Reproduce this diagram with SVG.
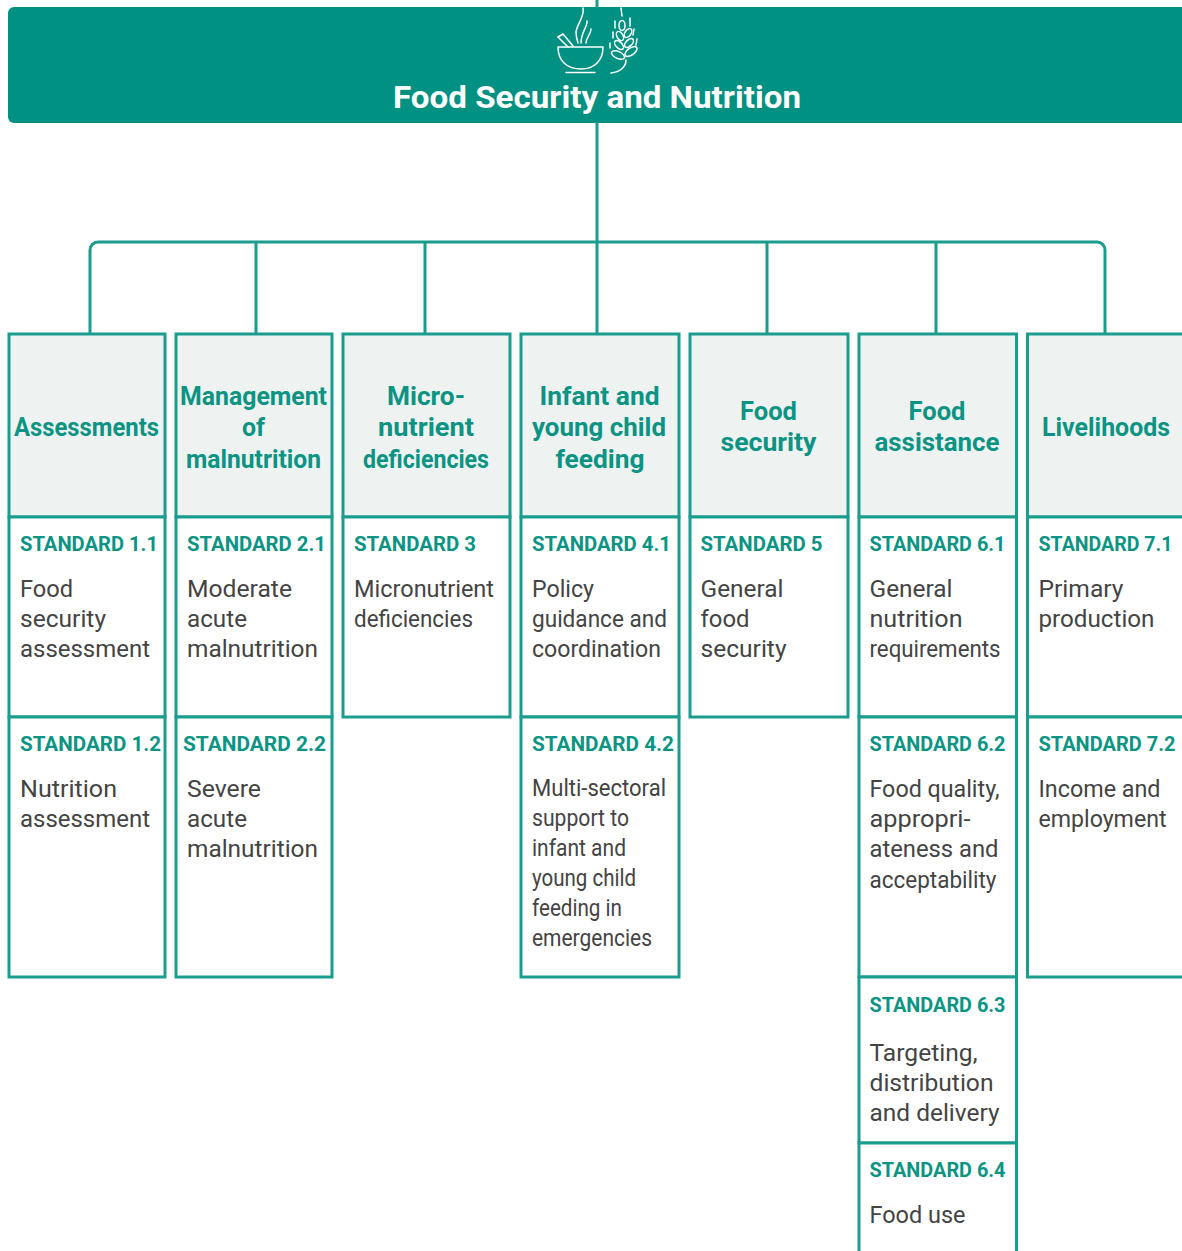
<svg xmlns="http://www.w3.org/2000/svg" width="1182" height="1251" viewBox="0 0 1182 1251">
<style>
text{font-family:Roboto,"Liberation Sans",sans-serif}
.box{fill:#fff;stroke:#1a9c8e;stroke-width:3}
.head{fill:#eef2f1;stroke:#1a9c8e;stroke-width:3}
.conn{fill:none;stroke:#1a9c8e;stroke-width:3}
.h{font-size:25px;font-weight:700;fill:#0b9484;text-anchor:middle}
.s{font-size:21px;font-weight:700;fill:#0b9484}
.b{font-size:24px;font-weight:400;fill:#444}
.ic{fill:none;stroke:#fff;stroke-width:1.5;stroke-linecap:round;stroke-linejoin:round}
</style>
<rect width="1182" height="1251" fill="#fff"/>
<g id="connectors">
<path class="conn" d="M597 0V8M597 122V334M90 334V250a8 8 0 0 1 8-8H1097a8 8 0 0 1 8 8V334M256 242V334M425 242V334M767 242V334M936 242V334"/>
</g>
<g id="banner">
<rect x="8" y="7" width="1190" height="116" rx="6" fill="#009182"/>
<g class="ic">
<path d="M558 47H603C603 61 594 69 581 69C567 69 558 61 558 47Z"/><path d="M566 72.500H595"/><path d="M558 37L563 34L573 46"/><path d="M558 37L568 47"/>
<path d="M583 8C585 16 577 24 576 32C576 37 577 40 578 43M587 21C588 26 581 32 581 43M591 29C591 34 586 38 586 43"/>
<path d="M621 8L622 16M615 21V28M630 18V26M613 32V38M634 29L633 35M610 43V48M637 39L636 45"/>
<ellipse cx="622" cy="25.500" rx="3" ry="5"/>
<ellipse cx="620" cy="36" rx="3" ry="5" transform="rotate(-30 620 36)"/>
<ellipse cx="628" cy="33" rx="3" ry="5" transform="rotate(35 628 33)"/>
<ellipse cx="619" cy="45" rx="3" ry="5.500" transform="rotate(-45 619 45)"/>
<ellipse cx="629" cy="43" rx="3" ry="5.500" transform="rotate(45 629 43)"/>
<ellipse cx="618" cy="55" rx="3.500" ry="7" transform="rotate(-65 618 55)"/>
<ellipse cx="631" cy="51.500" rx="3.500" ry="7" transform="rotate(55 631 51.500)"/>
<path d="M626 60C626 67 620 72 611 73"/>
</g>
<text x="597" y="108" font-size="32" font-weight="700" fill="#fff" text-anchor="middle" textLength="408" lengthAdjust="spacingAndGlyphs">Food Security and Nutrition</text>
</g>
<g id="col1">
<rect class="head" x="9" y="334" width="156" height="183"/><rect class="box" x="9" y="517" width="156" height="200"/><rect class="box" x="9" y="717" width="156" height="260"/>
<text class="h" x="86.500" y="436" textLength="145" lengthAdjust="spacingAndGlyphs">Assessments</text>
<text class="s" x="20" y="551" textLength="138" lengthAdjust="spacingAndGlyphs">STANDARD 1.1</text>
<text class="b" x="20" y="597" textLength="53" lengthAdjust="spacingAndGlyphs">Food</text>
<text class="b" x="20" y="627" textLength="86" lengthAdjust="spacingAndGlyphs">security</text>
<text class="b" x="20" y="657" textLength="130" lengthAdjust="spacingAndGlyphs">assessment</text>
<text class="s" x="20" y="751" textLength="141" lengthAdjust="spacingAndGlyphs">STANDARD 1.2</text>
<text class="b" x="20" y="797" textLength="97" lengthAdjust="spacingAndGlyphs">Nutrition</text>
<text class="b" x="20" y="827" textLength="130" lengthAdjust="spacingAndGlyphs">assessment</text>
</g>
<g id="col2">
<rect class="head" x="176" y="334" width="156" height="183"/><rect class="box" x="176" y="517" width="156" height="200"/><rect class="box" x="176" y="717" width="156" height="260"/>
<text class="h" x="253.500" y="405" textLength="147" lengthAdjust="spacingAndGlyphs">Management</text>
<text class="h" x="253.500" y="436" textLength="23" lengthAdjust="spacingAndGlyphs">of</text>
<text class="h" x="253.500" y="467.500" textLength="135" lengthAdjust="spacingAndGlyphs">malnutrition</text>
<text class="s" x="187" y="551" textLength="139" lengthAdjust="spacingAndGlyphs">STANDARD 2.1</text>
<text class="b" x="187" y="597" textLength="105" lengthAdjust="spacingAndGlyphs">Moderate</text>
<text class="b" x="187" y="627" textLength="60" lengthAdjust="spacingAndGlyphs">acute</text>
<text class="b" x="187" y="657" textLength="131" lengthAdjust="spacingAndGlyphs">malnutrition</text>
<text class="s" x="183" y="751" textLength="143" lengthAdjust="spacingAndGlyphs">STANDARD 2.2</text>
<text class="b" x="187" y="797" textLength="74" lengthAdjust="spacingAndGlyphs">Severe</text>
<text class="b" x="187" y="827" textLength="60" lengthAdjust="spacingAndGlyphs">acute</text>
<text class="b" x="187" y="857" textLength="131" lengthAdjust="spacingAndGlyphs">malnutrition</text>
</g>
<g id="col3">
<rect class="head" x="343" y="334" width="167" height="183"/><rect class="box" x="343" y="517" width="167" height="200"/>
<text class="h" x="426" y="405" textLength="78" lengthAdjust="spacingAndGlyphs">Micro-</text>
<text class="h" x="426" y="436" textLength="96" lengthAdjust="spacingAndGlyphs">nutrient</text>
<text class="h" x="426" y="467.500" textLength="126" lengthAdjust="spacingAndGlyphs">deficiencies</text>
<text class="s" x="354" y="551" textLength="122" lengthAdjust="spacingAndGlyphs">STANDARD 3</text>
<text class="b" x="354" y="597" textLength="140" lengthAdjust="spacingAndGlyphs">Micronutrient</text>
<text class="b" x="354" y="627" textLength="119" lengthAdjust="spacingAndGlyphs">deficiencies</text>
</g>
<g id="col4">
<rect class="head" x="521" y="334" width="158" height="183"/><rect class="box" x="521" y="517" width="158" height="200"/><rect class="box" x="521" y="717" width="158" height="260"/>
<text class="h" x="599.500" y="405" textLength="120" lengthAdjust="spacingAndGlyphs">Infant and</text>
<text class="h" x="599" y="436" textLength="134" lengthAdjust="spacingAndGlyphs">young child</text>
<text class="h" x="600" y="467.500" textLength="89" lengthAdjust="spacingAndGlyphs">feeding</text>
<text class="s" x="532" y="551" textLength="139" lengthAdjust="spacingAndGlyphs">STANDARD 4.1</text>
<text class="b" x="532" y="597" textLength="62" lengthAdjust="spacingAndGlyphs">Policy</text>
<text class="b" x="532" y="627" textLength="135" lengthAdjust="spacingAndGlyphs">guidance and</text>
<text class="b" x="532" y="657" textLength="129" lengthAdjust="spacingAndGlyphs">coordination</text>
<text class="s" x="532" y="751" textLength="142" lengthAdjust="spacingAndGlyphs">STANDARD 4.2</text>
<text class="b" x="532" y="796" textLength="134" lengthAdjust="spacingAndGlyphs">Multi-sectoral</text>
<text class="b" x="532" y="826" textLength="97" lengthAdjust="spacingAndGlyphs">support to</text>
<text class="b" x="532" y="856" textLength="94" lengthAdjust="spacingAndGlyphs">infant and</text>
<text class="b" x="532" y="886" textLength="104" lengthAdjust="spacingAndGlyphs">young child</text>
<text class="b" x="532" y="916" textLength="90" lengthAdjust="spacingAndGlyphs">feeding in</text>
<text class="b" x="532" y="946" textLength="120" lengthAdjust="spacingAndGlyphs">emergencies</text>
</g>
<g id="col5">
<rect class="head" x="690" y="334" width="158" height="183"/><rect class="box" x="690" y="517" width="158" height="200"/>
<text class="h" x="768.500" y="420" textLength="57" lengthAdjust="spacingAndGlyphs">Food</text>
<text class="h" x="768.500" y="451" textLength="96" lengthAdjust="spacingAndGlyphs">security</text>
<text class="s" x="700.500" y="551" textLength="122" lengthAdjust="spacingAndGlyphs">STANDARD 5</text>
<text class="b" x="700.500" y="597" textLength="83" lengthAdjust="spacingAndGlyphs">General</text>
<text class="b" x="700.500" y="627" textLength="49" lengthAdjust="spacingAndGlyphs">food</text>
<text class="b" x="700.500" y="657" textLength="86" lengthAdjust="spacingAndGlyphs">security</text>
</g>
<g id="col6">
<rect class="head" x="859" y="334" width="157.500" height="183"/><rect class="box" x="859" y="517" width="157.500" height="200"/><rect class="box" x="859" y="717" width="157.500" height="260"/><rect class="box" x="859" y="977" width="157.500" height="166"/><rect class="box" x="859" y="1143" width="157.500" height="120"/>
<text class="h" x="937" y="420" textLength="57" lengthAdjust="spacingAndGlyphs">Food</text>
<text class="h" x="937" y="451" textLength="125" lengthAdjust="spacingAndGlyphs">assistance</text>
<text class="s" x="869.500" y="551" textLength="136" lengthAdjust="spacingAndGlyphs">STANDARD 6.1</text>
<text class="b" x="869.500" y="597" textLength="83" lengthAdjust="spacingAndGlyphs">General</text>
<text class="b" x="869.500" y="627" textLength="93" lengthAdjust="spacingAndGlyphs">nutrition</text>
<text class="b" x="869.500" y="657" textLength="131" lengthAdjust="spacingAndGlyphs">requirements</text>
<text class="s" x="869.500" y="751" textLength="136" lengthAdjust="spacingAndGlyphs">STANDARD 6.2</text>
<text class="b" x="869.500" y="797" textLength="130" lengthAdjust="spacingAndGlyphs">Food quality,</text>
<text class="b" x="869.500" y="827" textLength="101" lengthAdjust="spacingAndGlyphs">appropri-</text>
<text class="b" x="869.500" y="857" textLength="129" lengthAdjust="spacingAndGlyphs">ateness and</text>
<text class="b" x="869.500" y="887.500" textLength="127" lengthAdjust="spacingAndGlyphs">acceptability</text>
<text class="s" x="869.500" y="1011.500" textLength="136" lengthAdjust="spacingAndGlyphs">STANDARD 6.3</text>
<text class="b" x="869.500" y="1061" textLength="108" lengthAdjust="spacingAndGlyphs">Targeting,</text>
<text class="b" x="869.500" y="1091" textLength="124" lengthAdjust="spacingAndGlyphs">distribution</text>
<text class="b" x="869.500" y="1121" textLength="130" lengthAdjust="spacingAndGlyphs">and delivery</text>
<text class="s" x="869.500" y="1177" textLength="136" lengthAdjust="spacingAndGlyphs">STANDARD 6.4</text>
<text class="b" x="869.500" y="1223" textLength="96" lengthAdjust="spacingAndGlyphs">Food use</text>
</g>
<g id="col7">
<rect class="head" x="1027.500" y="334" width="170" height="183"/><rect class="box" x="1027.500" y="517" width="170" height="200"/><rect class="box" x="1027.500" y="717" width="170" height="260"/>
<text class="h" x="1106" y="436" textLength="128" lengthAdjust="spacingAndGlyphs">Livelihoods</text>
<text class="s" x="1038.500" y="551" textLength="134" lengthAdjust="spacingAndGlyphs">STANDARD 7.1</text>
<text class="b" x="1038.500" y="597" textLength="85" lengthAdjust="spacingAndGlyphs">Primary</text>
<text class="b" x="1038.500" y="627" textLength="116" lengthAdjust="spacingAndGlyphs">production</text>
<text class="s" x="1038.500" y="751" textLength="137" lengthAdjust="spacingAndGlyphs">STANDARD 7.2</text>
<text class="b" x="1038.500" y="797" textLength="122" lengthAdjust="spacingAndGlyphs">Income and</text>
<text class="b" x="1038.500" y="827" textLength="128" lengthAdjust="spacingAndGlyphs">employment</text>
</g>
</svg>
